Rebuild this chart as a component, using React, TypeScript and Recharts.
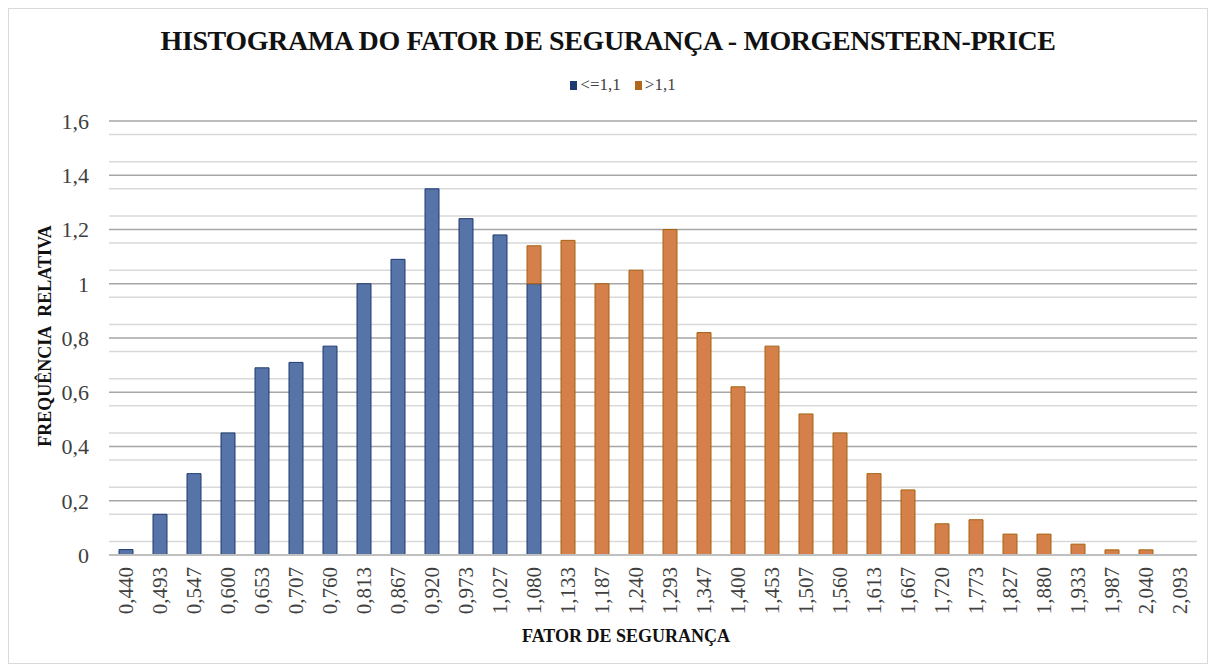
import React from "react";
import {
  BarChart,
  Bar,
  XAxis,
  YAxis,
  CartesianGrid,
  Legend,
} from "recharts";

// Histogram classes (fator de segurança)
const classes = [
  "0,440", "0,493", "0,547", "0,600", "0,653", "0,707", "0,760", "0,813",
  "0,867", "0,920", "0,973", "1,027", "1,080", "1,133", "1,187", "1,240",
  "1,293", "1,347", "1,400", "1,453", "1,507", "1,560", "1,613", "1,667",
  "1,720", "1,773", "1,827", "1,880", "1,933", "1,987", "2,040", "2,093",
];

// relative frequency, FS <= 1,1
const lowValues = [
  0.02, 0.15, 0.3, 0.45, 0.69, 0.71, 0.77, 1.0,
  1.09, 1.35, 1.24, 1.18, 1.0, 0, 0, 0,
  0, 0, 0, 0, 0, 0, 0, 0,
  0, 0, 0, 0, 0, 0, 0, 0,
];

// relative frequency, FS > 1,1
const highValues = [
  0, 0, 0, 0, 0, 0, 0, 0,
  0, 0, 0, 0, 0.14, 1.16, 1.0, 1.05,
  1.2, 0.82, 0.62, 0.77, 0.52, 0.45, 0.3, 0.24,
  0.115, 0.13, 0.077, 0.077, 0.04, 0.019, 0.019, 0,
];

const yTicks = [0, 0.2, 0.4, 0.6, 0.8, 1, 1.2, 1.4, 1.6];
const yMinor = [
  0.05, 0.1, 0.15, 0.25, 0.3, 0.35, 0.45, 0.5, 0.55, 0.65, 0.7, 0.75,
  0.85, 0.9, 0.95, 1.05, 1.1, 1.15, 1.25, 1.3, 1.35, 1.45, 1.5, 1.55,
];

const data = classes.map((name, i) => ({
  name,
  low: lowValues[i],
  high: highValues[i],
}));

const BLUE = "#5774a8";
const BLUE_EDGE = "#1f3a70";
const ORANGE = "#d5804b";
const ORANGE_EDGE = "#a5620f";
const FONT = '"Liberation Serif", serif';

const RotatedTick = (props: any) => {
  const { x, y, payload } = props;
  return (
    <text
      x={x}
      y={y}
      transform={`rotate(-90, ${x}, ${y})`}
      textAnchor="end"
      dy="0.35em"
      fontSize={21}
      fontFamily={FONT}
      fill="#404040"
    >
      {payload.value}
    </text>
  );
};

const LegendContent = () => (
  <div
    style={{
      display: "flex",
      justifyContent: "center",
      gap: 14,
      fontFamily: FONT,
      fontSize: 17,
      color: "#404040",
    }}
  >
    <span style={{ display: "flex", alignItems: "center", gap: 3 }}>
      <span style={{ width: 7, height: 9, background: BLUE_EDGE, display: "inline-block" }} />
      {"<=1,1"}
    </span>
    <span style={{ display: "flex", alignItems: "center", gap: 3 }}>
      <span style={{ width: 7, height: 9, background: "#b0681a", display: "inline-block" }} />
      {">1,1"}
    </span>
  </div>
);

export default function App() {
  return (
    <div
      style={{
        position: "relative",
        width: 1200,
        height: 656,
        border: "1px solid #d9d9d9",
        boxSizing: "border-box",
        background: "#fff",
      }}
    >
      <div
        style={{
          position: "absolute",
          top: 16,
          left: 0,
          width: "100%",
          textAlign: "center",
          fontFamily: FONT,
          fontWeight: "bold",
          fontSize: 28,
          color: "#111",
          letterSpacing: -0.4,
        }}
      >
        HISTOGRAMA DO FATOR DE SEGURANÇA - MORGENSTERN-PRICE
      </div>
      <div
        style={{
          position: "absolute",
          left: 36,
          top: 327,
          transform: "translate(-50%, -50%) rotate(-90deg)",
          transformOrigin: "center",
          fontFamily: FONT,
          fontWeight: "bold",
          fontSize: 18,
          whiteSpace: "nowrap",
          color: "#111",
        }}
      >
        FREQUÊNCIA&nbsp; RELATIVA
      </div>
      <div
        style={{
          position: "absolute",
          top: 617,
          left: 617,
          transform: "translateX(-50%)",
          fontFamily: FONT,
          fontWeight: "bold",
          fontSize: 18,
          whiteSpace: "nowrap",
          color: "#111",
        }}
      >
        FATOR DE SEGURANÇA
      </div>
      <BarChart
        width={1198}
        height={654}
        data={data}
        barSize={14}
        margin={{ top: 92, right: 10, left: 40, bottom: 30 }}
      >
        <CartesianGrid
          vertical={false}
          horizontalValues={yMinor}
          stroke="#d9d9d9"
          strokeWidth={1.5}
        />
        <CartesianGrid vertical={false} stroke="#a6a6a6" strokeWidth={1.5} />
        <Legend
          verticalAlign="top"
          align="center"
          content={<LegendContent />}
          wrapperStyle={{ top: 66 }}
        />
        <XAxis
          dataKey="name"
          interval={0}
          height={78}
          tickLine={false}
          axisLine={{ stroke: "#bfbfbf", strokeWidth: 2 }}
          tick={<RotatedTick />}
          tickMargin={6}
        />
        <YAxis
          domain={[0, 1.6]}
          ticks={yTicks}
          width={60}
          axisLine={false}
          tickLine={false}
          tickMargin={14}
          tick={{ fontSize: 22, fontFamily: FONT, fill: "#404040" }}
          tickFormatter={(v: number) => String(v).replace(".", ",")}
        />
        <Bar
          dataKey="low"
          name="<=1,1"
          stackId="a"
          fill={BLUE}
          stroke={BLUE_EDGE}
          strokeWidth={1}
          isAnimationActive={false}
        />
        <Bar
          dataKey="high"
          name=">1,1"
          stackId="a"
          fill={ORANGE}
          stroke={ORANGE_EDGE}
          strokeWidth={1}
          isAnimationActive={false}
        />
      </BarChart>
    </div>
  );
}
